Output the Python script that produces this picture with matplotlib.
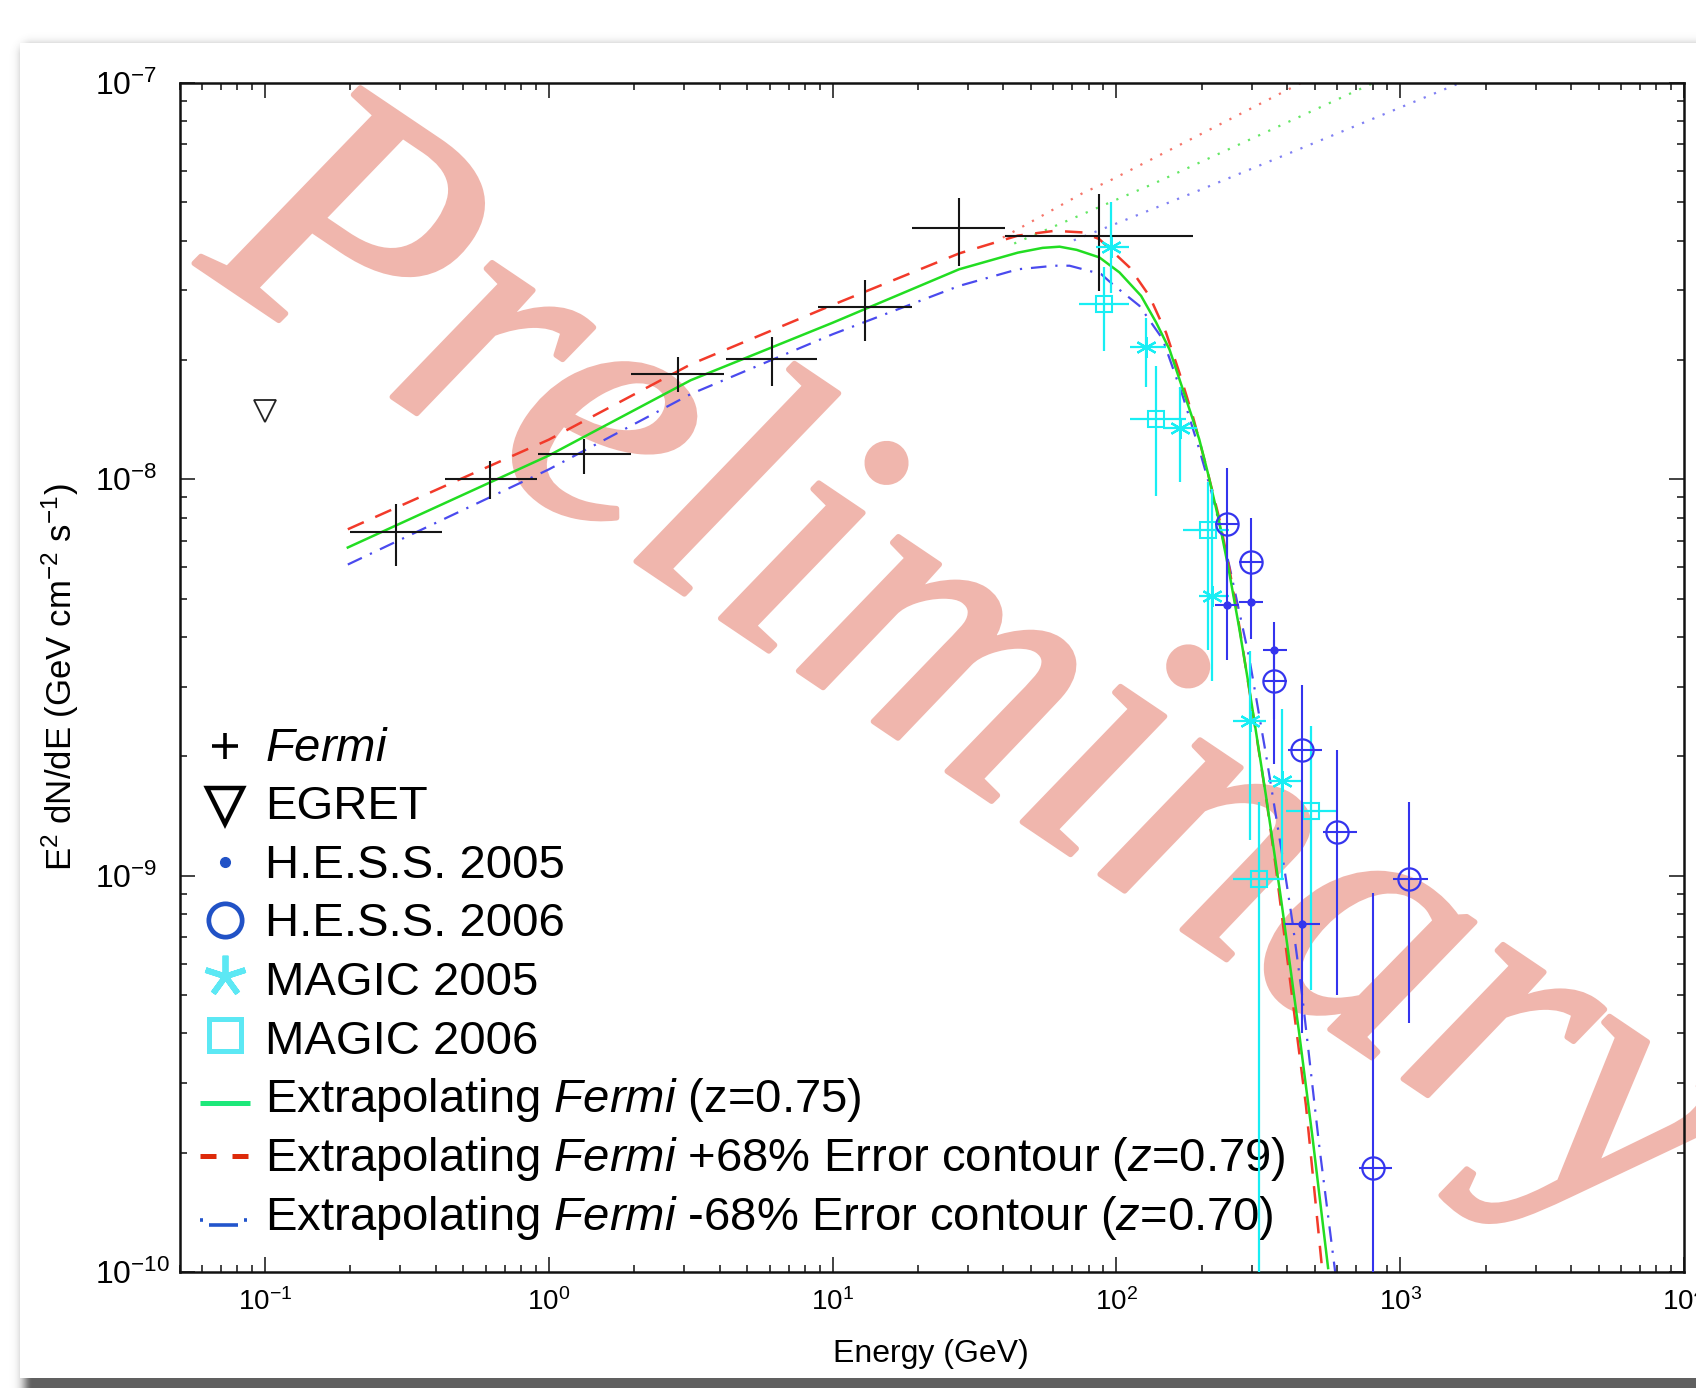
import numpy as np
import matplotlib
matplotlib.use("Agg")
import matplotlib.pyplot as plt
import matplotlib.patheffects as pe
from matplotlib.patches import Rectangle
from matplotlib.ticker import LogLocator, NullFormatter

plt.rcParams["font.family"] = ["Liberation Sans", "DejaVu Sans"]
plt.rcParams["mathtext.fontset"] = "custom"
plt.rcParams["mathtext.rm"] = "Liberation Sans"
plt.rcParams["mathtext.it"] = "Liberation Sans:italic"
plt.rcParams["mathtext.bf"] = "Liberation Sans:bold"

W, H = 1696, 1388

# ── data ────────────────────────────────────────────────────────────────────
fermi_e = [0.29, 0.62, 1.33, 2.85, 6.1, 13.0, 27.9, 86.7]
fermi_elo = [0.20, 0.43, 0.92, 1.95, 4.2, 8.9, 19.0, 40.5]
fermi_ehi = [0.42, 0.91, 1.95, 4.14, 8.8, 19.1, 40.5, 186.0]
fermi_f = [7.35e-9, 1.00e-8, 1.156e-8, 1.84e-8, 2.01e-8, 2.72e-8, 4.31e-8, 4.10e-8]
fermi_flo = [6.03e-9, 8.93e-9, 1.03e-8, 1.66e-8, 1.72e-8, 2.23e-8, 3.46e-8, 2.99e-8]
fermi_fhi = [8.65e-9, 1.11e-8, 1.262e-8, 2.03e-8, 2.29e-8, 3.18e-8, 5.14e-8, 5.25e-8]

egret_e = [0.1]
egret_f = [1.49e-8]

hess05_e = [245.5, 297.6, 359.6, 452.6]
hess05_elo = [222.6, 270.0, 328.6, 394.0]
hess05_ehi = [271.0, 328.0, 399.0, 520.0]
hess05_f = [4.81e-9, 4.91e-9, 3.71e-9, 7.55e-10]
hess05_flo = [3.51e-9, 3.95e-9, 2.48e-9, 4.02e-10]
hess05_fhi = [7.26e-9, 6.28e-9, 4.37e-9, 1.10e-9]

hess06_e = [245.5, 297.6, 359.6, 452.6, 601.0, 804.0, 1076.0]
hess06_elo = [222.6, 270.0, 328.6, 401.0, 532.6, 713.4, 947.0]
hess06_ehi = [271.0, 328.0, 399.0, 529.6, 706.6, 939.5, 1255.0]
hess06_f = [7.73e-9, 6.19e-9, 3.10e-9, 2.08e-9, 1.29e-9, 1.83e-10, 9.81e-10]
hess06_flo = [5.27e-9, 4.98e-9, 1.91e-9, 1.10e-9, 5.01e-10, 1e-12, 4.25e-10]
hess06_fhi = [1.07e-8, 8.0e-9, 3.94e-9, 3.02e-9, 2.08e-9, 9.03e-10, 1.53e-9]

magic05_e = [95.7, 127.3, 167.0, 218.0, 295.8, 382.8]
magic05_elo = [84.8, 111.9, 145.5, 196.0, 258.0, 341.0]
magic05_ehi = [111.2, 149.6, 193.0, 250.0, 336.5, 446.5]
magic05_f = [3.86e-8, 2.16e-8, 1.35e-8, 5.07e-9, 2.46e-9, 1.73e-9]
magic05_flo = [2.96e-8, 1.71e-8, 9.82e-9, 3.09e-9, 1.23e-9, 9.77e-10]
magic05_fhi = [5.0e-8, 2.56e-8, 1.71e-8, 9.44e-9, 3.68e-9, 2.64e-9]

magic06_e = [90.5, 138.0, 209.7, 319.0, 485.0]
magic06_elo = [74.1, 111.7, 171.0, 258.0, 395.0]
magic06_ehi = [111.2, 176.0, 250.0, 391.0, 593.0]
magic06_f = [2.77e-8, 1.42e-8, 7.43e-9, 9.81e-10, 1.46e-9]
magic06_flo = [2.11e-8, 9.08e-9, 3.72e-9, 1e-12, 5.15e-10]
magic06_fhi = [3.43e-8, 1.93e-8, 9.82e-9, 1.53e-9, 2.38e-9]

# model curves, log10(E/GeV) and log10(flux)
green_loge = [-0.708, 0.0, 0.5, 1.0, 1.446, 1.653, 1.740, 1.800, 1.860, 1.940,
              2.011, 2.087, 2.140, 2.187, 2.222, 2.269, 2.292, 2.322, 2.363,
              2.398, 2.433, 2.468, 2.527, 2.581, 2.644, 2.691, 2.746]
green_logf = [-8.172, -7.94, -7.75, -7.605, -7.470, -7.428, -7.416, -7.413, -7.421,
              -7.440, -7.478, -7.537, -7.604, -7.672, -7.747, -7.848, -7.899,
              -7.983, -8.109, -8.236, -8.376, -8.527, -8.798, -9.063, -9.397,
              -9.660, -9.99]
red_loge = [-0.708, 0.0, 0.5, 1.0, 1.446, 1.653, 1.782, 1.881, 1.940, 2.046,
            2.116, 2.175, 2.222, 2.269, 2.316, 2.363, 2.398, 2.433, 2.468,
            2.527, 2.562, 2.597, 2.668, 2.726]
red_logf = [-8.126, -7.90, -7.71, -7.56, -7.43, -7.385, -7.373, -7.377, -7.394,
            -7.465, -7.537, -7.630, -7.731, -7.84, -7.966, -8.10, -8.225, -8.37,
            -8.53, -8.80, -8.98, -9.18, -9.58, -10.0]
blue_loge = [-0.708, 0.0, 0.5, 1.0, 1.446, 1.653, 1.782, 1.835, 1.946, 1.987,
             2.081, 2.163, 2.2335, 2.292, 2.339, 2.398, 2.468, 2.527, 2.585,
             2.621, 2.656, 2.715, 2.771]
blue_logf = [-8.215, -7.975, -7.785, -7.634, -7.512, -7.47, -7.461, -7.461, -7.482,
             -7.508, -7.562, -7.646, -7.789, -7.924, -8.042, -8.218, -8.45, -8.694,
             -8.95, -9.12, -9.31, -9.683, -10.0]

# unabsorbed extrapolations (dotted)
red_dot_loge = [1.60, 1.881, 1.975, 2.65]
red_dot_logf = [-7.39, -7.278, -7.247, -7.0]
green_dot_loge = [1.64, 1.881, 2.128, 2.905]
green_dot_logf = [-7.405, -7.331, -7.255, -7.0]
blue_dot_loge = [1.85, 2.03, 2.281, 3.21]
blue_dot_logf = [-7.397, -7.346, -7.274, -7.0]

legend_labels = [
    r"$\mathit{Fermi}$",
    "EGRET",
    "H.E.S.S. 2005",
    "H.E.S.S. 2006",
    "MAGIC 2005",
    "MAGIC 2006",
    r"Extrapolating $\mathit{Fermi}$ (z=0.75)",
    r"Extrapolating $\mathit{Fermi}$ +68% Error contour ($\mathit{z}$=0.79)",
    r"Extrapolating $\mathit{Fermi}$ -68% Error contour ($\mathit{z}$=0.70)",
]

# colours
C_CYAN = "#18EEF4"
C_BLUE = "#3434EE"
C_GREEN = "#22DD22"
C_RED = "#F23A2A"
C_BLUE_LINE = "#4A4AEE"
C_MARK = "#F0B6AD"


def fx(px):
    return px / W


def fy(py):
    return 1 - py / H


fig = plt.figure(figsize=(W / 100, H / 100), dpi=100)
fig.patch.set_facecolor("white")

# ── slide card with drop shadow ──────────────────────────────────────────────
yy, xx = np.mgrid[0:H, 0:W]
sx0, sx1, sy0, sy1 = 32, W + 60, 55, 1392
dx = np.maximum(np.maximum(sx0 - xx, xx - sx1), 0)
dy = np.maximum(np.maximum(sy0 - yy, yy - sy1), 0)
dist = np.hypot(dx, dy)
shadow = np.zeros((H, W, 4))
shadow[..., :3] = 0.22
shadow[..., 3] = 0.8 * np.exp(-(dist / 10.0) ** 2)
fig.figimage(shadow, 0, 0, origin="upper", zorder=-3)
fig.add_artist(Rectangle((fx(20), fy(1378)), (W + 60 - 20) / W, (1378 - 43) / H,
                         transform=fig.transFigure, facecolor="white",
                         edgecolor="none", zorder=-2))

ax = fig.add_axes([fx(179.5), fy(1272), (1684 - 179.5) / W, (1272 - 83) / H])
ax.set_xscale("log")
ax.set_yscale("log")
ax.set_xlim(0.05, 1e4)
ax.set_ylim(1e-10, 1e-7)

# watermark
ax.text(fx(968), fy(680), "Preliminary", transform=fig.transFigure,
        fontsize=262, family="Liberation Serif", style="italic", color=C_MARK,
        rotation=-34, ha="center", va="center", zorder=0.5, clip_on=False,
        path_effects=[pe.withStroke(linewidth=4, foreground=C_MARK)])


def asym(vals, lo, hi):
    v = np.array(vals)
    return [v - np.array(lo), np.array(hi) - v]


# model curves
ax.plot(10 ** np.array(red_dot_loge), 10 ** np.array(red_dot_logf), ls=(0, (1, 4)),
        color=C_RED, lw=1.6, alpha=0.7, zorder=2)
ax.plot(10 ** np.array(green_dot_loge), 10 ** np.array(green_dot_logf), ls=(0, (1, 4)),
        color=C_GREEN, lw=1.6, alpha=0.7, zorder=2)
ax.plot(10 ** np.array(blue_dot_loge), 10 ** np.array(blue_dot_logf), ls=(0, (1, 4)),
        color=C_BLUE_LINE, lw=1.6, alpha=0.7, zorder=2)
ax.plot(10 ** np.array(blue_loge), 10 ** np.array(blue_logf), ls=(0, (7, 4, 1, 4)),
        color=C_BLUE_LINE, lw=1.6, zorder=2.2)
ax.plot(10 ** np.array(red_loge), 10 ** np.array(red_logf), ls=(0, (7, 5)),
        color=C_RED, lw=1.8, zorder=2.3)
ax.plot(10 ** np.array(green_loge), 10 ** np.array(green_logf), ls="-",
        color=C_GREEN, lw=1.8, zorder=2.4)

# data points
ax.errorbar(fermi_e, fermi_f, xerr=asym(fermi_e, fermi_elo, fermi_ehi),
            yerr=asym(fermi_f, fermi_flo, fermi_fhi), fmt="none",
            ecolor="#151515", elinewidth=1.5, capsize=0, zorder=3)
ax.plot(egret_e, egret_f, ls="none", marker="v", ms=16, mfc="none",
        mec="#222222", mew=1.3, zorder=3)
ax.errorbar(magic06_e, magic06_f, xerr=asym(magic06_e, magic06_elo, magic06_ehi),
            yerr=asym(magic06_f, magic06_flo, magic06_fhi), fmt="s", ms=12,
            mfc="none", mec=C_CYAN, mew=1.5, ecolor=C_CYAN, elinewidth=1.6,
            capsize=0, zorder=3)
ax.errorbar(magic05_e, magic05_f, xerr=asym(magic05_e, magic05_elo, magic05_ehi),
            yerr=asym(magic05_f, magic05_flo, magic05_fhi), fmt="none",
            ecolor=C_CYAN, elinewidth=1.6, capsize=0, zorder=3)
ax.plot(magic05_e, magic05_f, ls="none", marker=(6, 2, 0), ms=15, mec=C_CYAN,
        mew=1.6, zorder=3)
ax.errorbar(hess05_e, hess05_f, xerr=asym(hess05_e, hess05_elo, hess05_ehi),
            yerr=asym(hess05_f, hess05_flo, hess05_fhi), fmt="o", ms=5,
            color=C_BLUE, ecolor=C_BLUE, elinewidth=1.5, capsize=0, zorder=3.1)
ax.errorbar(hess06_e, hess06_f, xerr=asym(hess06_e, hess06_elo, hess06_ehi),
            yerr=asym(hess06_f, hess06_flo, hess06_fhi), fmt="o", ms=16,
            mfc="none", mec=C_BLUE, mew=1.6, ecolor=C_BLUE, elinewidth=1.5,
            capsize=0, zorder=3.1)

# ticks
ax.xaxis.set_major_locator(LogLocator(base=10, numticks=20))
ax.xaxis.set_minor_locator(LogLocator(base=10, subs=np.arange(2, 10), numticks=20))
ax.yaxis.set_minor_locator(LogLocator(base=10, subs=np.arange(2, 10), numticks=20))
ax.xaxis.set_minor_formatter(NullFormatter())
ax.yaxis.set_minor_formatter(NullFormatter())
ax.tick_params(which="both", direction="in", top=True, right=True, width=1.2,
               color="#222222")
ax.tick_params(which="major", length=11)
ax.tick_params(which="minor", length=5)
ax.tick_params(axis="x", which="major", labelsize=20, pad=12)
ax.tick_params(axis="y", which="major", labelsize=23, pad=61)
plt.setp(ax.get_yticklabels(), ha="left")
for s in ax.spines.values():
    s.set_linewidth(1.8)
    s.set_color("#111111")

fig.text(fx(931), fy(1354), "Energy (GeV)", fontsize=23, ha="center", va="center")
fig.text(fx(60), fy(677), r"E$^2$ dN/dE (GeV cm$^{-2}$ s$^{-1}$)", fontsize=25,
         rotation=90, ha="center", va="center")

# ── legend (drawn by hand) ──────────────────────────────────────────────────
def lm(py, **kw):
    ax.plot([fx(225)], [fy(py)], transform=fig.transFigure, clip_on=False,
            ls="none", zorder=1.6, **kw)


def ll(x0, x1, py, **kw):
    ax.plot([fx(x0), fx(x1)], [fy(py), fy(py)], transform=fig.transFigure,
            clip_on=False, zorder=1.6, solid_capstyle="butt", **kw)


lm(746, marker="+", ms=19, mew=2.6, color="black")
lm(806, marker="v", ms=26, mfc="none", mec="black", mew=3.2)
lm(862, marker="o", ms=7, color="#2152C6")
lm(920, marker="o", ms=24, mfc="none", mec="#2152C6", mew=3.4)
lm(976, marker=(5, 2, 0), ms=30, mec="#5CE8F4", mew=4.2)
lm(1035, marker="s", ms=23, mfc="none", mec="#5CE8F4", mew=3.6)
ll(200, 250, 1103, color="#1DE87A", lw=3.6)
ll(200, 216, 1156, color="#DD2A0A", lw=3.6)
ll(232, 248, 1156, color="#DD2A0A", lw=3.6)
ll(200, 203, 1220, color="#2255CC", lw=2.6)
ll(209, 238, 1225, color="#2255CC", lw=2.6)
ll(244, 247, 1220, color="#2255CC", lw=2.6)

for i, lab in enumerate(legend_labels):
    ax.text(fx(265), fy(760.7 + 58.6 * i), lab, transform=fig.transFigure,
            fontsize=34, ha="left", va="baseline", zorder=1.5, clip_on=False)

fig.savefig("out.png", dpi=100, facecolor="white")
